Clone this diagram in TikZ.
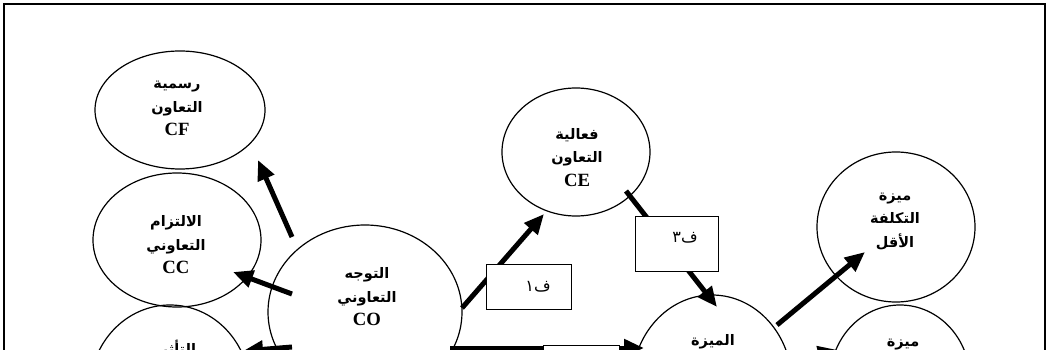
\documentclass[tikz,border=0pt]{standalone}
\usepackage{fontspec}
\setmainfont{Liberation Serif}
\newfontfamily\arfont[Script=Arabic]{DejaVu Sans}
\TeXXeTstate=1
\usetikzlibrary{shapes.geometric,arrows.meta}
\newcommand\artxt[1]{{\arfont\bfseries\beginR #1\endR}}
\newcommand\arplain[1]{{\arfont\beginR #1\endR}}
\newcommand\latxt[1]{{\bfseries\fontsize{18.7}{23.5}\selectfont #1}}
\begin{document}
\begin{tikzpicture}[x=1pt,y=-1pt,
  ell/.style={draw, ellipse, line width=1.2pt, inner sep=0pt},
  txt/.style={align=center, font=\fontsize{14.5}{23.5}\selectfont, inner sep=0pt},
  arr/.style={line width=5pt, -{Triangle[length=20pt,width=17pt]}},
  labbox/.style={draw, fill=white, line width=1pt, inner sep=0pt},
  labtxt/.style={font=\fontsize{16}{18}\selectfont, inner sep=0pt}]
\useasboundingbox (0,0) rectangle (1050,350);
\clip (0,0) rectangle (1050,350);
\fill[white] (0,0) rectangle (1050,350);
% frame
\draw[line width=1.5pt] (4,380) -- (4,4) -- (1045,4) -- (1045,380);
% ellipses
\node[ell, minimum width=170pt, minimum height=118pt] (cf) at (180,110) {};
\node[ell, minimum width=168pt, minimum height=134pt] (cc) at (177,240) {};
\node[ell, minimum width=160pt, minimum height=170pt] (ta) at (170,390) {};
\node[ell, minimum width=194pt, minimum height=174pt] (co) at (365,312) {};
\node[ell, minimum width=148pt, minimum height=128pt] (ce) at (576,152) {};
\node[ell, minimum width=160pt, minimum height=178pt] (mz) at (712,384) {};
\node[ell, minimum width=158pt, minimum height=150pt] (cost) at (896,227) {};
\node[ell, minimum width=140pt, minimum height=150pt] (mz2) at (900,380) {};
% texts
\node[txt] (cf-t) at (177,108.5) {\artxt{رسمية}\\\artxt{التعاون}\\\latxt{CF}};
\node[txt] (cc-t) at (176,245) {\artxt{الالتزام}\\\artxt{التعاوني}\\\latxt{CC}};
\node[txt] (co-t) at (367,297) {\artxt{التوجه}\\\artxt{التعاوني}\\\latxt{CO}};
\node[txt] (ce-t) at (577,157.5) {\artxt{فعالية}\\\artxt{التعاون}\\\latxt{CE}};
\node[txt] (cost-t) at (895,221.5) {\artxt{ميزة}\\\artxt{التكلفة}\\\artxt{الأقل}};
\node[txt] (ta-t) at (175,349) {\artxt{التأثير}};
\node[txt] (mz-t) at (713,342) {\artxt{الميزة}};
\node[txt] (mz2-t) at (903,345) {\artxt{ميزة}};
% arrow end points
\coordinate (a1s) at (292,237); \coordinate (a1e) at (258,160);
\coordinate (a2s) at (292,294); \coordinate (a2e) at (233,272);
\coordinate (a3s) at (292,347); \coordinate (a3e) at (243,351);
\coordinate (a4s) at (462,308); \coordinate (a4e) at (544,214);
\coordinate (a5s) at (626,191); \coordinate (a5e) at (717,307);
\coordinate (a6s) at (450,348); \coordinate (a6e) at (644,348);
\coordinate (a7s) at (777,325); \coordinate (a7e) at (865,252);
\coordinate (a8s) at (790,362); \coordinate (a8e) at (838,350);
\draw[arr] (a1s) -- (a1e);
\draw[arr] (a2s) -- (a2e);
\draw[arr] (a3s) -- (a3e);
\draw[arr] (a4s) -- (a4e);
\draw[arr] (a5s) -- (a5e);
\draw[arr] (a6s) -- (a6e);
\draw[arr] (a7s) -- (a7e);
\draw[arr] (a8s) -- (a8e);
% label boxes
\node[labbox, minimum width=85pt, minimum height=45pt] (b1) at (528.5,286.5) {};
\node[labtxt] (b1-t) at (538,287) {\arplain{ف١}};
\node[labbox, minimum width=83pt, minimum height=55pt] (b3) at (676.5,243.5) {};
\node[labtxt] (b3-t) at (685,238) {\arplain{ف٣}};
\node[labbox, minimum width=76pt, minimum height=46pt] (b2) at (581,368) {};
\end{tikzpicture}
\end{document}
